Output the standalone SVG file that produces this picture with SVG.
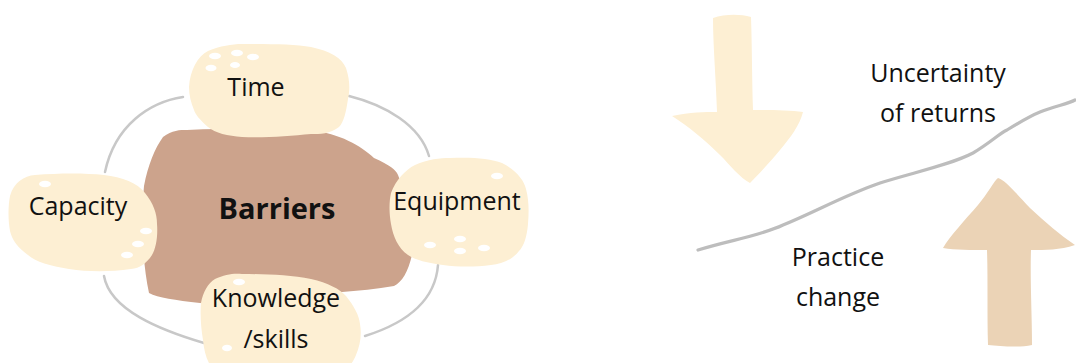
<svg xmlns="http://www.w3.org/2000/svg" width="1076" height="363" viewBox="0 0 1076 363">
<style>
.blob{fill:#FDEFD3;}
.core{fill:#CCA38C;}
.dot{fill:#FFFFFF;}
.ring{fill:none;stroke:#C8C8C8;stroke-width:2.5;stroke-linecap:round;}
.lbl{font-family:"Open Sans","Liberation Sans",sans-serif;font-size:25px;fill:#111;text-anchor:middle;}
.big{font-family:"Open Sans","Liberation Sans",sans-serif;font-size:29px;font-weight:bold;fill:#111;text-anchor:middle;}
</style>
<rect width="1076" height="363" fill="#FFFFFF"/>
<g id="connectors">
<path class="ring" d="M183,97 C150,102 115,125 105,172"/>
<path class="ring" d="M104,276 C110,310 160,330 204,343"/>
<path class="ring" d="M365,336 C400,325 435,305 438,265"/>
<path class="ring" d="M349,96 C385,105 420,125 429,156"/>
<path class="ring" style="stroke:#BDBDBD;stroke-width:3.2" d="M698,250 C730,240 760,236 783,225 C815,212 845,195 880,183 C915,172 950,165 973,153 C990,143 1000,133 1007,130 C1020,122 1030,116 1040,112 C1055,106 1068,104 1075,100"/>
</g>
<g id="barriers">
<path class="core" d="M163,137 C172,130 180,130 187,130 C230,128 270,128 311,130 C340,134 360,145 374,158 C390,165 396,170 398,175 C408,200 414,230 412,255 C408,272 402,282 394,286 C360,292 320,293 280,296 C240,300 215,305 200,303 C175,300 158,298 149,293 C142,260 141,220 144,186 C148,165 155,148 163,137 Z"/>
<text class="big" x="277" y="219">Barriers</text>
</g>
<g id="time">
<path class="blob" d="M189,87 C190,70 198,56 208,51 C220,46 232,44 242,44 C270,44 295,44 311,47 C330,51 342,58 346,68 C350,80 350,90 348,99 C346,112 344,122 339,127 C330,134 320,134 311,134 C290,136 265,138 242,137 C228,136 215,133 208,127 C200,120 195,114 194,110 C191,103 189,95 189,87 Z"/>
<ellipse class="dot" cx="215" cy="56" rx="6" ry="3.2"/>
<ellipse class="dot" cx="237" cy="53" rx="6" ry="3.2"/>
<ellipse class="dot" cx="253" cy="57" rx="6" ry="3.2"/>
<ellipse class="dot" cx="211" cy="68" rx="5.5" ry="3.2"/>
<ellipse class="dot" cx="235" cy="65" rx="5" ry="3"/>
<text class="lbl" x="256" y="96">Time</text>
</g>
<g id="capacity">
<path class="blob" d="M10,196 C14,182 24,176 35,175 C60,173 85,173 104,175 C122,177 138,183 145,193 C153,203 157,213 157,224 C158,236 156,248 152,255 C146,264 140,268 131,269 C110,272 88,272 69,269 C50,266 36,262 28,255 C18,248 12,240 10,231 C8,220 8,206 10,196 Z"/>
<ellipse class="dot" cx="45" cy="184" rx="6" ry="3.2"/>
<ellipse class="dot" cx="146" cy="231" rx="6" ry="3.2"/>
<ellipse class="dot" cx="138" cy="244" rx="6" ry="3.2"/>
<ellipse class="dot" cx="127" cy="255" rx="6" ry="3.2"/>
<text class="lbl" x="78" y="215">Capacity</text>
</g>
<g id="equipment">
<path class="blob" d="M391,193 C396,180 405,170 415,165 C428,159 440,158 450,158 C470,157 490,158 502,163 C516,170 524,180 526,189 C529,200 529,212 528,224 C527,236 524,246 519,251 C512,260 502,264 491,265 C475,267 458,267 443,265 C428,263 415,260 408,255 C398,248 393,236 391,224 C389,213 389,202 391,193 Z"/>
<ellipse class="dot" cx="497" cy="176" rx="6" ry="3.2"/>
<ellipse class="dot" cx="430" cy="245" rx="6" ry="3.2"/>
<ellipse class="dot" cx="460" cy="239" rx="6" ry="3.2"/>
<ellipse class="dot" cx="460" cy="251" rx="6" ry="3.2"/>
<ellipse class="dot" cx="484" cy="248" rx="6" ry="3.2"/>
<text class="lbl" x="457" y="210">Equipment</text>
</g>
<g id="knowledge">
<path class="blob" d="M201,303 C203,292 208,283 215,279 C225,274 235,273 242,274 C265,274 290,275 311,279 C328,283 340,289 346,296 C354,306 359,315 360,324 C362,335 360,346 356,355 C354,360 352,363 350,365 L210,365 C206,358 204,350 203,340 C201,328 200,315 201,303 Z"/>
<ellipse class="dot" cx="239" cy="282" rx="6" ry="3.2"/>
<ellipse class="dot" cx="227" cy="348" rx="5" ry="3.2"/>
<text class="lbl" x="276" y="307">Knowledge</text>
<text class="lbl" x="276" y="348">/skills</text>
</g>
<g id="down-arrow">
<path fill="#FDEFD3" d="M713,18 C725,14 740,14 751,17 C752,45 752,80 753,110 C770,110 790,110 803,112 C800,125 790,138 780,150 C770,162 758,175 750,183 C740,178 730,165 720,155 C705,140 688,126 672,116 C690,112 705,112 717,112 C716,80 713,45 713,18 Z"/>
</g>
<g id="up-arrow">
<path fill="#EBD3B6" d="M998,178 C1005,180 1015,192 1030,208 C1045,222 1060,235 1075,245 C1060,250 1045,250 1031,250 C1030,280 1032,315 1032,345 C1018,348 1000,346 988,345 C987,315 988,280 987,250 C972,250 955,250 943,248 C950,236 965,220 978,205 C988,193 994,181 998,178 Z"/>
</g>
<g id="labels">
<text class="lbl" x="938" y="82">Uncertainty</text>
<text class="lbl" x="938" y="122">of returns</text>
<text class="lbl" x="838" y="266">Practice</text>
<text class="lbl" x="838" y="306">change</text>
</g>
</svg>
